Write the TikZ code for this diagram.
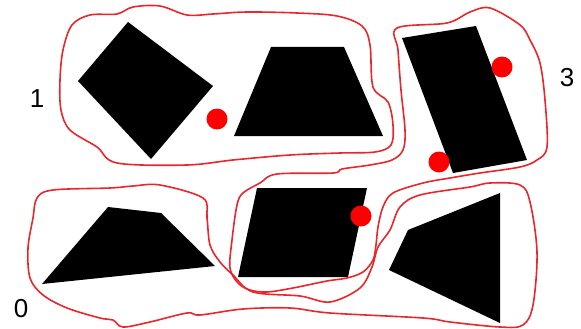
\documentclass[tikz,border=0pt]{standalone}
\usepackage{fontspec}
\setmainfont{Liberation Sans}
\definecolor{pen}{HTML}{E8262B}
\definecolor{dotred}{HTML}{FF0000}
\begin{document}
\begin{tikzpicture}[x=1pt,y=-1pt,
  solidpoly/.style={fill=black},
  hull/.style={draw=pen,line width=1.6pt,line join=round},
  reddot/.style={fill=dotred},
  lbl/.style={font=\fontsize{26}{26}\selectfont,inner sep=0pt}]
\useasboundingbox (0,0) rectangle (581,329);
% shapes
\fill[solidpoly] (128,22) -- (213,86) -- (151,159) -- (78,81) -- cycle;
\fill[solidpoly] (271,47) -- (344,47) -- (383,136) -- (234,136) -- cycle;
\fill[solidpoly] (402,38) -- (476,26) -- (527,160) -- (453,173) -- cycle;
\fill[solidpoly] (108,207) -- (161,213) -- (215,266) -- (42,284) -- cycle;
\fill[solidpoly] (257,188) -- (367,188) -- (348,277) -- (238,277) -- cycle;
\fill[solidpoly] (408,230) -- (500,193) -- (500,323) -- (389,270) -- cycle;
% dots
\fill[reddot] (217,119) circle (10.5);
\fill[reddot] (502,67) circle (10.5);
\fill[reddot] (439,162) circle (10.5);
\fill[reddot] (361,216) circle (10.5);
% group 1 hull
\draw[hull] plot[smooth cycle,tension=0.55] coordinates {
 (187,15) (160,6) (133,7) (117,14) (90,15) (72,25) (63,50) (60,80) (61,110)
 (70,130) (97,147) (117,163) (187,165) (233,160) (290,155) (340,153) (375,152)
 (391,145) (393,125) (388,102) (373,87) (370,45) (362,26) (337,16) (297,13)
 (247,12) (213,14)};
% group 3 hull
\draw[hull] plot[smooth cycle,tension=0.55] coordinates {
 (397,28) (447,23) (470,12) (490,8) (520,25) (530,40) (540,63) (545,100)
 (547,147) (537,160) (520,167) (480,173) (450,178) (423,183) (393,193)
 (383,207) (378,227) (376,245) (373,260) (363,272) (347,278) (327,281)
 (293,288) (267,292) (250,290) (238,283) (230,268) (232,240) (237,205)
 (243,193) (260,183) (277,174) (333,173) (342,169) (370,165) (392,160)
 (403,150) (405,130) (401,90) (398,50)};
% group 0 hull
\draw[hull] plot[smooth cycle,tension=0.55] coordinates {
 (37,198) (53,190) (110,188) (133,186) (160,185) (203,198) (207,218) (210,245)
 (220,262) (233,275) (253,292) (300,296) (330,302) (360,288) (372,267)
 (378,247) (390,230) (400,207) (420,195) (470,187) (490,183) (520,185)
 (530,202) (537,252) (533,305) (523,325) (500,327) (450,322) (423,318)
 (330,313) (290,308) (243,309) (200,315) (187,313) (150,322) (123,327)
 (113,320) (100,318) (67,308) (43,295) (30,278) (28,248) (33,218)};
% labels
\node[lbl] (l1) at (37,99) {1};
\node[lbl] (l3) at (567,78) {3};
\node[lbl] (l0) at (21,309) {0};
\end{tikzpicture}
\end{document}
